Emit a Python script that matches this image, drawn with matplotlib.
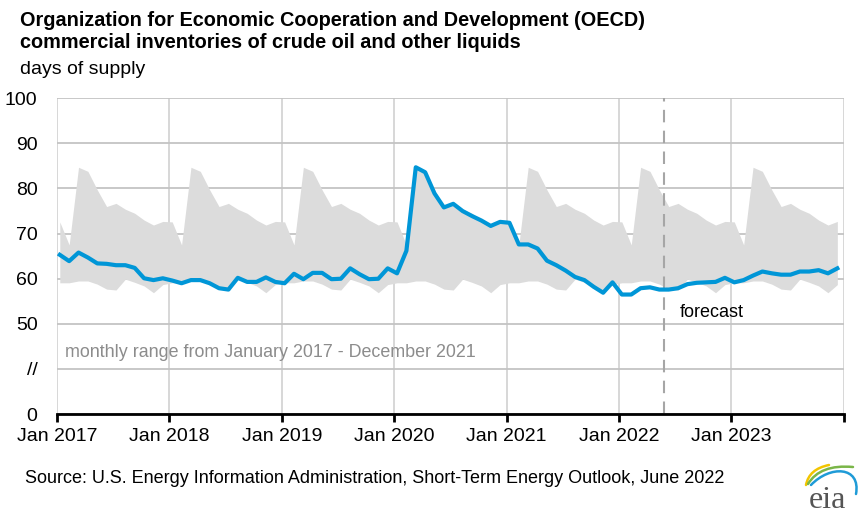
import numpy as np
import matplotlib
matplotlib.use("Agg")
from matplotlib import pyplot as plt
from matplotlib.path import Path
from matplotlib.patches import PathPatch

plt.rcParams['font.family'] = ['Liberation Sans', 'DejaVu Sans']

# monthly range Jan 2017 - Dec 2021 (days of supply), same shape each year
range_high = [72.6, 67.5, 84.7, 83.8, 79.7, 76.0, 76.7, 75.4, 74.5, 73.0, 71.9, 72.7]
range_low = [59.1, 59.1, 59.5, 59.5, 58.8, 57.7, 57.5, 59.9, 59.2, 58.4, 56.9, 58.7]

# OECD commercial inventories, Jan 2017 - Dec 2023
inventories = [
    65.3, 63.9, 65.8, 64.7, 63.4, 63.3, 63.0, 63.0, 62.4, 60.1, 59.7, 60.1,
    59.6, 59.0, 59.7, 59.7, 59.0, 57.9, 57.6, 60.2, 59.3, 59.3, 60.3, 59.3,
    59.0, 61.1, 59.9, 61.3, 61.3, 59.9, 60.0, 62.3, 61.0, 59.9, 60.0, 62.3,
    61.2, 66.2, 84.7, 83.6, 78.9, 75.8, 76.6, 75.0, 73.9, 72.9, 71.7, 72.6,
    72.4, 67.6, 67.6, 66.7, 64.0, 63.0, 61.8, 60.4, 59.7, 58.2, 56.9, 59.2,
    56.5, 56.5, 57.9, 58.1, 57.6, 57.6, 57.9, 58.8, 59.1, 59.2, 59.3, 60.2,
    59.2, 59.7, 60.7, 61.6, 61.2, 60.9, 60.9, 61.6, 61.6, 61.9, 61.2, 62.3,
]
year_labels = ["Jan 2017", "Jan 2018", "Jan 2019", "Jan 2020",
               "Jan 2021", "Jan 2022", "Jan 2023", ""]
ytick_labels = ["0", "//", "50", "60", "70", "80", "90", "100"]


def squash(v):
    # broken axis: everything from 50 up sits two steps above zero
    return np.asarray(v, dtype=float) - 30


n = len(inventories)
x = np.arange(n) + 0.3
band_hi = np.tile(range_high, n // 12)
band_lo = np.tile(range_low, n // 12)

fig = plt.figure(figsize=(8.62, 5.17), dpi=100)
ax = fig.add_axes([0.0661, 0.199, 0.9129, 0.611])

ax.fill_between(x, squash(band_lo), squash(band_hi), color="#dcdcdc",
                linewidth=0, zorder=1)
ax.plot(x, squash(inventories), color="#0096d7", linewidth=3.0,
        solid_joinstyle="round", zorder=3)

ax.set_xlim(0, 84)
ax.set_ylim(0, 70)
ax.set_xticks(np.arange(0, 85, 12))
ax.set_xticklabels(year_labels, fontsize=14)
ax.set_yticks(np.arange(0, 71, 10))
ax.set_yticklabels(ytick_labels, fontsize=14)

ax.grid(axis="y", color="#c4c4c4", linewidth=1.3, zorder=0)
ax.grid(axis="x", color="#d4d4d4", linewidth=1.3, zorder=0)
ax.set_axisbelow(True)
for side in ["left", "right", "top"]:
    ax.spines[side].set_visible(False)
ax.spines["bottom"].set_linewidth(2.0)
ax.spines["bottom"].set_zorder(4)
ax.tick_params(axis="x", length=6, width=2.0, direction="out", pad=4)
ax.tick_params(axis="y", length=0, pad=14)

# forecast divider
ax.axvline(64.85, color="#a6a6a6", linewidth=1.5, linestyle=(0, (6, 4)),
           zorder=2)
ax.text(66.5, squash(52.6), "forecast", fontsize=13, va="center", ha="left")
ax.text(0.85, 13.7, "monthly range from January 2017 - December 2021",
        fontsize=12.9, color="#8c8c8c", va="center", ha="left")

fig.text(0.0232, 0.961, "Organization for Economic Cooperation and Development (OECD)",
         fontsize=14.3, fontweight="bold", va="center", ha="left")
fig.text(0.0232, 0.918, "commercial inventories of crude oil and other liquids",
         fontsize=14.3, fontweight="bold", va="center", ha="left")
fig.text(0.0232, 0.866, "days of supply", fontsize=14, va="center", ha="left")
fig.text(0.029, 0.075,
         "Source: U.S. Energy Information Administration, Short-Term Energy Outlook, June 2022",
         fontsize=13, va="center", ha="left")

# eia logo, drawn in pixel-like coordinates of a small corner axes
lax = fig.add_axes([800 / 862, 5 / 517, 62 / 862, 52 / 517])
lax.set_xlim(800, 862)
lax.set_ylim(512, 460)
lax.axis("off")
lax.text(827, 508, "eia", fontsize=23, family="Liberation Serif",
         color="#555555", ha="center", va="baseline")
swooshes = [
    ([(806, 485), (809, 469), (829, 465)], "#f2c500"),
    ([(808, 484), (820, 464), (853, 467)], "#7ab648"),
    ([(811, 485), (830, 465), (861, 466), (856, 494)], "#1f9bd7"),
]
for pts, col in swooshes:
    codes = [Path.MOVETO] + [Path.CURVE3 if len(pts) == 3 else Path.CURVE4] * (len(pts) - 1)
    lax.add_patch(PathPatch(Path(pts, codes), fill=False, edgecolor=col,
                            linewidth=1.8, capstyle="round"))

plt.savefig("out.png", dpi=100)
plt.close()
